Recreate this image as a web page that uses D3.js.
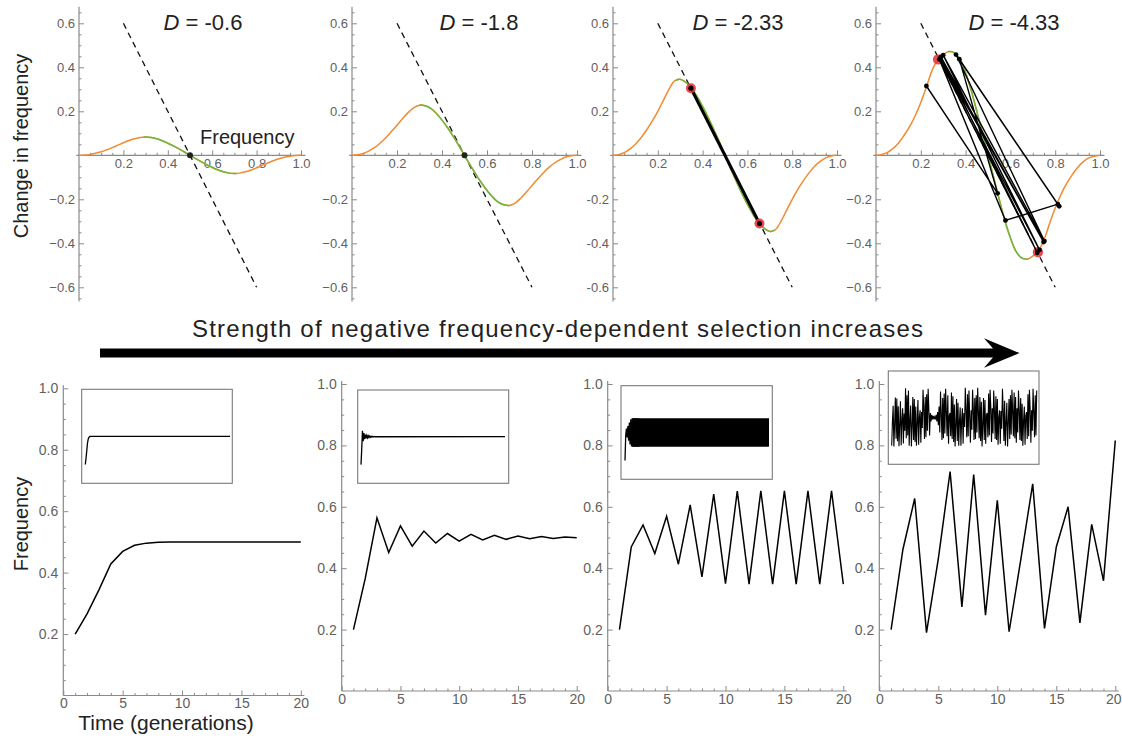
<!DOCTYPE html>
<html>
<head>
<meta charset="utf-8">
<script src="https://cdn.jsdelivr.net/npm/d3@7"></script>
<style>
  body { margin: 0; background: #fff; }
  text { font-family: "Liberation Sans", Arial, Helvetica, sans-serif; }
</style>
</head>
<body>
<svg id="chart" width="1122" height="744"></svg>
<script>
// ---- data ----
const panelLabels = ["-0.6", "-1.8", "-2.33", "-4.33"];

const freqGrid = [0, 0.025, 0.05, 0.075, 0.1, 0.125, 0.15, 0.175, 0.2, 0.225, 0.25, 0.275, 0.3, 0.325, 0.35, 0.375, 0.4, 0.425, 0.45, 0.475, 0.5,
                  0.525, 0.55, 0.575, 0.6, 0.625, 0.65, 0.675, 0.7, 0.725, 0.75, 0.775, 0.8, 0.825, 0.85, 0.875, 0.9, 0.925, 0.95, 0.975, 1];

const changeD06 = [0, 0.001, 0.004, 0.009, 0.016, 0.025, 0.035, 0.046, 0.057, 0.067, 0.075, 0.081, 0.083, 0.081, 0.075, 0.066, 0.055, 0.043, 0.029, 0.015, 0,
                   -0.015, -0.029, -0.043, -0.055, -0.066, -0.075, -0.081, -0.083, -0.081, -0.075, -0.067, -0.057, -0.046, -0.035, -0.025, -0.016, -0.009, -0.004, -0.001, 0];
const changeD18 = [0, 0.002, 0.008, 0.02, 0.035, 0.055, 0.08, 0.108, 0.137, 0.167, 0.195, 0.217, 0.228, 0.225, 0.213, 0.19, 0.16, 0.125, 0.086, 0.044, 0,
                   -0.044, -0.086, -0.125, -0.16, -0.19, -0.213, -0.225, -0.228, -0.217, -0.195, -0.167, -0.137, -0.108, -0.08, -0.055, -0.035, -0.02, -0.008, -0.002, 0];
const changeD233 = [0, 0.003, 0.012, 0.028, 0.05, 0.08, 0.115, 0.155, 0.2, 0.25, 0.3, 0.338, 0.346, 0.332, 0.305, 0.268, 0.222, 0.172, 0.117, 0.06, 0,
                    -0.06, -0.117, -0.172, -0.222, -0.268, -0.305, -0.332, -0.346, -0.338, -0.3, -0.25, -0.2, -0.155, -0.115, -0.08, -0.05, -0.028, -0.012, -0.003, 0];
const changeD433 = [0, 0.004, 0.012, 0.03, 0.055, 0.09, 0.13, 0.18, 0.24, 0.31, 0.385, 0.433, 0.458, 0.472, 0.466, 0.437, 0.375, 0.295, 0.2, 0.1, 0,
                    -0.1, -0.2, -0.295, -0.375, -0.437, -0.466, -0.472, -0.458, -0.433, -0.385, -0.31, -0.24, -0.18, -0.13, -0.09, -0.055, -0.03, -0.012, -0.004, 0];

// part of each curve between the hump and the dip (drawn green)
const stableRanges = [[0.29, 0.71], [0.3, 0.7], [0.28, 0.72], [0.32, 0.68]];
const dashedLine = [[0.2, 0.6], [0.8, -0.6]];

const equilibrium = [[0.5, 0]];
const cycleD233 = [[0.348, 0.305], [0.654, -0.31]];
const cycleD433 = [[0.277, 0.436], [0.723, -0.44]];
const cobwebD433 = [[0.225, 0.315], [0.543, -0.173], [0.372, 0.437], [0.812, -0.222], [0.578, -0.296], [0.283, 0.436],
                    [0.72, -0.443], [0.29, 0.447], [0.748, -0.394], [0.286, 0.44], [0.73, -0.43], [0.3, 0.455],
                    [0.752, -0.39], [0.357, 0.458], [0.818, -0.232]];

const topXTicks = [0.2, 0.4, 0.6, 0.8, 1.0];
const topYTicks = [-0.6, -0.4, -0.2, 0.2, 0.4, 0.6];

const generations = [1, 2, 3, 4, 5, 6, 7, 8, 9, 10, 11, 12, 13, 14, 15, 16, 17, 18, 19, 20];
const freqD06 = [0.2, 0.266, 0.344, 0.428, 0.469, 0.489, 0.496, 0.499, 0.5, 0.5, 0.5, 0.5, 0.5, 0.5, 0.5, 0.5, 0.5, 0.5, 0.5, 0.5];
const freqD18 = [0.2, 0.366, 0.564, 0.451, 0.538, 0.472, 0.521, 0.482, 0.513, 0.488, 0.51, 0.492, 0.507, 0.494, 0.505, 0.496, 0.503, 0.497, 0.502, 0.499];
const freqD233 = [0.2, 0.469, 0.541, 0.448, 0.569, 0.413, 0.606, 0.372, 0.641, 0.35, 0.651, 0.348, 0.652, 0.348, 0.652, 0.348, 0.652, 0.348, 0.652, 0.348];
const freqD433 = [0.2, 0.461, 0.627, 0.19, 0.43, 0.715, 0.274, 0.705, 0.247, 0.621, 0.193, 0.43, 0.675, 0.204, 0.469, 0.6, 0.222, 0.543, 0.359, 0.816];

// insets run to generation 200
const insetTailD06 = [[200, 0.5]];
const insetTailD18 = [[200, 0.5]];
const insetBandD233 = [[11, 0.348, 0.651], [200, 0.348, 0.652]];
const insetChaosD433 = [
  0.28, 0.74, 0.31, 0.79, 0.2, 0.47, 0.63, 0.19, 0.41, 0.72, 0.26, 0.7, 0.24, 0.62, 0.2, 0.44, 0.69, 0.21, 0.5, 0.58,
  0.23, 0.56, 0.39, 0.8, 0.6, 0.27, 0.72, 0.29, 0.75, 0.36, 0.81, 0.59, 0.31, 0.55, 0.46, 0.53, 0.48, 0.52, 0.49, 0.51,
  0.48, 0.53, 0.46, 0.56, 0.42, 0.62, 0.34, 0.78, 0.55, 0.26, 0.71, 0.28, 0.76, 0.33, 0.81, 0.57, 0.3, 0.74, 0.22, 0.52,
  0.55, 0.3, 0.77, 0.27, 0.73, 0.24, 0.64, 0.19, 0.43, 0.7, 0.25, 0.66, 0.2, 0.46, 0.61, 0.2, 0.48, 0.6, 0.22, 0.55,
  0.4, 0.82, 0.58, 0.29, 0.75, 0.3, 0.79, 0.51, 0.23, 0.58, 0.37, 0.8, 0.6, 0.26, 0.71, 0.27, 0.74, 0.34, 0.82, 0.56,
  0.28, 0.72, 0.25, 0.67, 0.19, 0.42, 0.71, 0.26, 0.69, 0.22, 0.53, 0.55, 0.29, 0.76, 0.31, 0.8, 0.62, 0.24, 0.6, 0.33,
  0.79, 0.57, 0.27, 0.73, 0.26, 0.7, 0.21, 0.5, 0.58, 0.22, 0.57, 0.38, 0.81, 0.59, 0.25, 0.68, 0.2, 0.45, 0.66, 0.19,
  0.44, 0.7, 0.27, 0.74, 0.32, 0.8, 0.56, 0.3, 0.77, 0.28, 0.72, 0.23, 0.6, 0.34, 0.79, 0.58, 0.26, 0.71, 0.25, 0.65,
  0.2, 0.47, 0.62, 0.21, 0.52, 0.56, 0.27, 0.75, 0.3, 0.8, 0.6, 0.23, 0.58, 0.36, 0.81, 0.57, 0.29, 0.74, 0.31, 0.79];

const bottomXTicks = [0, 5, 10, 15, 20];
const bottomYTicks = [0.2, 0.4, 0.6, 0.8, 1.0];

// ---- layout ----
const ORANGE = "#f28a30", GREEN = "#68bb3f", RED = "#e8383a";
const AXIS = "#8a8a8a", TICKTXT = "#5f5f5f";
const svg = d3.select("#chart");

const topLayout = [
  {left: 79, right: 301, title: 203, minus: "\u2212"},
  {left: 352, right: 577, title: 479, minus: "\u2212"},
  {left: 613, right: 837, title: 738, minus: "-"},
  {left: 876, right: 1100, title: 1014, minus: "\u2212"}
];
const changeSeries = [changeD06, changeD18, changeD233, changeD433];

const yTop = d3.scaleLinear().domain([-0.6, 0.6]).range([287.3, 23.3]);

function styleAxis(g, fontSize)
{
    g.select(".domain").remove();
    g.selectAll(".tick line").attr("stroke", AXIS).attr("stroke-width", 1);
    g.selectAll(".tick text").attr("fill", TICKTXT)
        .style("font-size", fontSize + "px")
        .style("font-family", "'Liberation Sans', Arial, sans-serif");
}

function minorTicks(lo, hi, step, majorEvery)
{
    let out = [];
    let n = Math.round((hi - lo) / step);
    for (let k = 0; k <= n; k++) {
        let v = +(lo + k * step).toFixed(4);
        if (Math.round(v / step) % majorEvery !== 0) out.push(v);
    }
    return out;
}

topLayout.forEach((L, i) => {
    const x = d3.scaleLinear().domain([0, 1]).range([L.left, L.right]);
    const g = svg.append("g");

    // axis lines
    g.append("line").attr("x1", x(0)).attr("x2", x(0)).attr("y1", yTop(0.675)).attr("y2", yTop(-0.665))
        .attr("stroke", AXIS).attr("stroke-width", 1.2);
    g.append("line").attr("x1", x(-0.012)).attr("x2", x(1.02)).attr("y1", yTop(0)).attr("y2", yTop(0))
        .attr("stroke", AXIS).attr("stroke-width", 1.2);

    const fmt = d => (d < 0 ? L.minus + Math.abs(d).toFixed(1) : d.toFixed(1));

    g.append("g").attr("transform", `translate(${x(0)},0)`)
        .call(d3.axisLeft(yTop).tickValues(topYTicks).tickSize(-5).tickPadding(4).tickFormat(fmt))
        .call(a => styleAxis(a, 13));
    g.append("g").attr("transform", `translate(${x(0)},0)`)
        .call(d3.axisLeft(yTop).tickValues(minorTicks(-0.65, 0.65, 0.05, 4)).tickSize(-2.5).tickFormat(""))
        .call(a => styleAxis(a, 13));
    g.append("g").attr("transform", `translate(0,${yTop(0)})`)
        .call(d3.axisBottom(x).tickValues(topXTicks).tickSize(-5).tickPadding(3).tickFormat(d => d.toFixed(1)))
        .call(a => styleAxis(a, 13));
    g.append("g").attr("transform", `translate(0,${yTop(0)})`)
        .call(d3.axisBottom(x).tickValues(minorTicks(0.05, 1.0, 0.05, 4)).tickSize(-2.5).tickFormat(""))
        .call(a => styleAxis(a, 13));

    // dashed reference line
    g.append("path").datum(dashedLine)
        .attr("d", d3.line().x(d => x(d[0])).y(d => yTop(d[1])))
        .attr("fill", "none").attr("stroke", "#111").attr("stroke-width", 1.3)
        .attr("stroke-dasharray", "6,4.5");

    // change-in-frequency curve
    const pts = freqGrid.map((p, j) => [p, changeSeries[i][j]]);
    const curve = d3.line().x(d => x(d[0])).y(d => yTop(d[1])).curve(d3.curveCatmullRom.alpha(0.5));
    g.append("path").datum(pts).attr("d", curve)
        .attr("fill", "none").attr("stroke", ORANGE).attr("stroke-width", 1.5);
    const clipId = "stable" + i;
    svg.append("clipPath").attr("id", clipId).append("rect")
        .attr("x", x(stableRanges[i][0])).attr("width", x(stableRanges[i][1]) - x(stableRanges[i][0]))
        .attr("y", 0).attr("height", 320);
    g.append("path").datum(pts).attr("d", curve).attr("clip-path", `url(#${clipId})`)
        .attr("fill", "none").attr("stroke", GREEN).attr("stroke-width", 1.5);

    // title
    const t = g.append("text").attr("x", L.title).attr("y", 30).attr("text-anchor", "middle")
        .style("font-size", "22px").attr("fill", "#222");
    t.append("tspan").style("font-style", "italic").text("D");
    t.append("tspan").text(" = " + panelLabels[i]);

    const ln = d3.line().x(d => x(d[0])).y(d => yTop(d[1]));
    if (i < 2) {
        g.selectAll(".eq").data(equilibrium).join("circle")
            .attr("cx", d => x(d[0])).attr("cy", d => yTop(d[1])).attr("r", 3).attr("fill", "#222");
    }
    if (i === 2) {
        g.append("path").datum(cycleD233).attr("d", ln)
            .attr("fill", "none").attr("stroke", "#000").attr("stroke-width", 3);
        g.selectAll(".cyc").data(cycleD233).join("circle")
            .attr("cx", d => x(d[0])).attr("cy", d => yTop(d[1])).attr("r", 5).attr("fill", RED).attr("opacity", 0.9);
        g.selectAll(".cycd").data(cycleD233).join("circle")
            .attr("cx", d => x(d[0])).attr("cy", d => yTop(d[1])).attr("r", 2.6).attr("fill", "#000");
    }
    if (i === 3) {
        g.selectAll(".cyc").data(cycleD433).join("circle")
            .attr("cx", d => x(d[0])).attr("cy", d => yTop(d[1])).attr("r", 5.2).attr("fill", RED).attr("opacity", 0.9);
        g.append("path").datum(cobwebD433).attr("d", ln)
            .attr("fill", "none").attr("stroke", "#000").attr("stroke-width", 1.4).attr("stroke-linejoin", "round");
        g.selectAll(".cob").data(cobwebD433).join("circle")
            .attr("cx", d => x(d[0])).attr("cy", d => yTop(d[1])).attr("r", 2.4).attr("fill", "#000");
    }

    if (i === 0) {
        g.append("text").attr("x", 200).attr("y", 144).text("Frequency")
            .style("font-size", "20px").attr("fill", "#222");
    }
});

svg.append("text").attr("transform", "translate(28,146) rotate(-90)").attr("text-anchor", "middle")
    .text("Change in frequency").style("font-size", "20px").attr("fill", "#222");

// ---- arrow + caption ----
svg.append("text").attr("x", 192).attr("y", 336.5).text("Strength of negative frequency-dependent selection increases")
    .attr("textLength", 731).attr("lengthAdjust", "spacing")
    .style("font-size", "24px").attr("fill", "#222");
svg.append("path")
    .attr("d", "M100,348.5 H993 L984,338.3 L1019.5,353 L984,367.8 L993,357.5 H100 Z")
    .attr("fill", "#000");

// ---- bottom time series ----
const bottomLayout = [
    {left: 63.3, right: 300.8, base: 695.5, top: 388.3, inset: {x: 81.7, y: 389.3, w: 150.6, h: 94, t0: 85.3, t1: 230}},
    {left: 341.7, right: 576.7, base: 691, top: 384, inset: {x: 357.7, y: 390, w: 151, h: 93.3, t0: 361, t1: 505}},
    {left: 607.7, right: 843.3, base: 691, top: 384, inset: {x: 621, y: 385.7, w: 151.3, h: 93.6, t0: 625, t1: 769}},
    {left: 879.3, right: 1115.3, base: 691, top: 384, inset: {x: 888.3, y: 371, w: 150.7, h: 93.3, t0: 891.7, t1: 1036.7}}
];
const freqSeries = [freqD06, freqD18, freqD233, freqD433];

bottomLayout.forEach((L, i) => {
    const x = d3.scaleLinear().domain([0, 20]).range([L.left, L.right]);
    const y = d3.scaleLinear().domain([0, 1]).range([L.base, L.top]);
    const g = svg.append("g");

    g.append("line").attr("x1", x(0)).attr("x2", x(0)).attr("y1", y(0)).attr("y2", y(1.01))
        .attr("stroke", AXIS).attr("stroke-width", 1.2);
    g.append("line").attr("x1", x(0)).attr("x2", x(20.3)).attr("y1", y(0)).attr("y2", y(0))
        .attr("stroke", AXIS).attr("stroke-width", 1.2);

    g.append("g").attr("transform", `translate(${x(0)},0)`)
        .call(d3.axisLeft(y).tickValues(bottomYTicks).tickSize(-5).tickPadding(5).tickFormat(d => d.toFixed(1)))
        .call(a => styleAxis(a, 14));
    g.append("g").attr("transform", `translate(${x(0)},0)`)
        .call(d3.axisLeft(y).tickValues(minorTicks(0.05, 1.0, 0.05, 4)).tickSize(-2.5).tickFormat(""))
        .call(a => styleAxis(a, 14));
    const xAx = g.append("g").attr("transform", `translate(0,${y(0)})`)
        .call(d3.axisBottom(x).tickValues(bottomXTicks).tickSize(-5).tickPadding(3).tickFormat(d3.format("d")))
        .call(a => styleAxis(a, 14));
    if (i === 3) {
        // keep the last label inside the page edge
        xAx.selectAll(".tick text").filter(d => d === 20)
            .attr("text-anchor", "end").attr("x", 1121 - x(20));
    }
    g.append("g").attr("transform", `translate(0,${y(0)})`)
        .call(d3.axisBottom(x).tickValues(minorTicks(1, 20, 1, 5)).tickSize(-2.5).tickFormat(""))
        .call(a => styleAxis(a, 14));

    const series = generations.map((t, j) => [t, freqSeries[i][j]]);
    g.append("path").datum(series)
        .attr("d", d3.line().x(d => x(d[0])).y(d => y(d[1])))
        .attr("fill", "none").attr("stroke", "#000").attr("stroke-width", 1.5).attr("stroke-linejoin", "miter");

    // inset: same run out to 200 generations
    const I = L.inset;
    const xi = d3.scaleLinear().domain([1, 200]).range([I.t0, I.t1]);
    const yi = d3.scaleLinear().domain([0, 1]).range([I.y + I.h, I.y]);
    g.append("rect").attr("x", I.x).attr("y", I.y).attr("width", I.w).attr("height", I.h)
        .attr("fill", "#fff").attr("stroke", "#7a7a7a").attr("stroke-width", 1.1);

    let insetPts = series.slice();
    if (i === 0) insetPts = insetPts.concat(insetTailD06);
    if (i === 1) insetPts = insetPts.concat(insetTailD18);
    if (i === 3) insetPts = insetPts.concat(insetChaosD433.map((v, k) => [21 + k, v]));
    if (i === 2) {
        g.append("path").datum(insetBandD233)
            .attr("d", d3.area().x(d => xi(d[0])).y0(d => yi(d[1])).y1(d => yi(d[2])))
            .attr("fill", "#000");
    }
    g.append("path").datum(insetPts)
        .attr("d", d3.line().x(d => xi(d[0])).y(d => yi(d[1])))
        .attr("fill", "none").attr("stroke", "#000").attr("stroke-width", i === 3 ? 1.1 : 1.3);
});

svg.append("text").attr("transform", "translate(28,524) rotate(-90)").attr("text-anchor", "middle")
    .text("Frequency").style("font-size", "20px").attr("fill", "#222");
svg.append("text").attr("x", 166).attr("y", 730).attr("text-anchor", "middle")
    .text("Time (generations)").style("font-size", "21px").attr("fill", "#222");
</script>
</body>
</html>
